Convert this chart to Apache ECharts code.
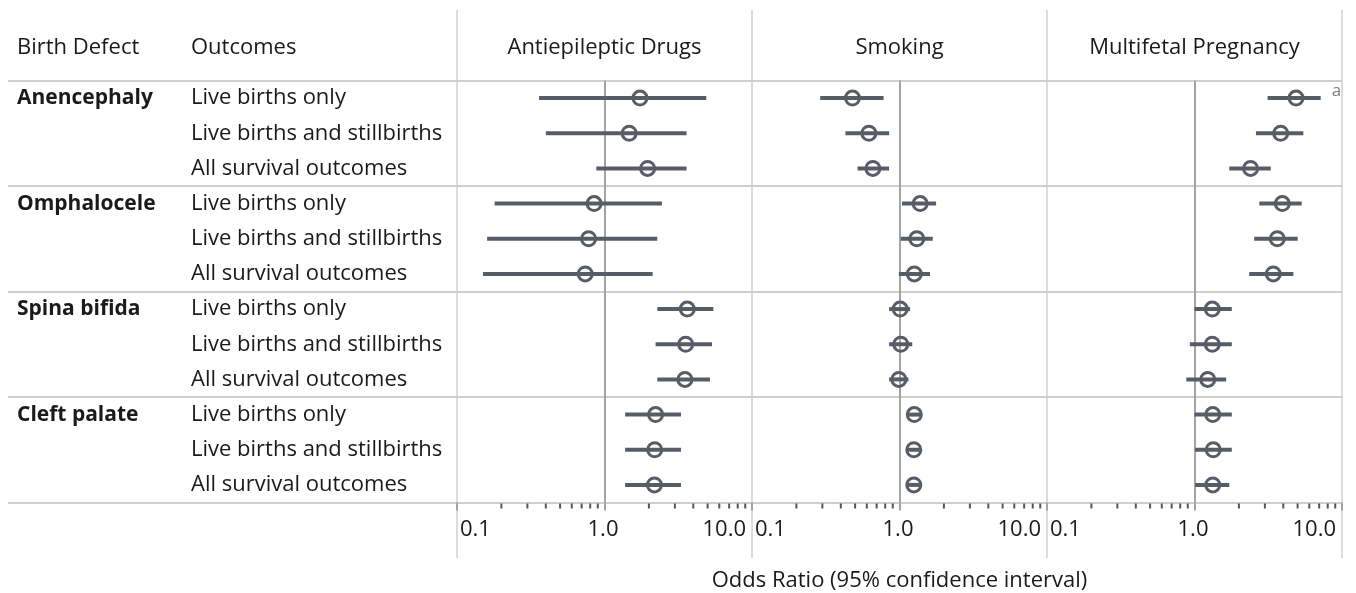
<!DOCTYPE html>
<html>
<head>
<meta charset="utf-8">
<script src="https://cdn.jsdelivr.net/npm/echarts@6/dist/echarts.min.js"></script>
<style>
html, body { margin: 0; padding: 0; background: #fff; }
#chart { width: 1356px; height: 593px; }
</style>
</head>
<body>
<div id="chart"></div>
<script>
var defects = ['Anencephaly', 'Omphalocele', 'Spina bifida', 'Cleft palate'];
var outcomes = ['Live births only', 'Live births and stillbirths', 'All survival outcomes'];
var exposures = ['Antiepileptic Drugs', 'Smoking', 'Multifetal Pregnancy'];

// odds ratios and 95% CI, rows = defect x outcome (12 rows, top to bottom)
var aedOR = [1.74, 1.47, 1.96, 0.85, 0.78, 0.74, 3.64, 3.55, 3.51, 2.22, 2.19, 2.18];
var aedLo = [0.36, 0.40, 0.88, 0.18, 0.16, 0.15, 2.28, 2.22, 2.28, 1.38, 1.38, 1.38];
var aedHi = [4.90, 3.60, 3.60, 2.45, 2.28, 2.12, 5.47, 5.36, 5.19, 3.30, 3.30, 3.30];

var smkOR = [0.48, 0.62, 0.66, 1.38, 1.31, 1.26, 1.01, 1.02, 0.99, 1.26, 1.25, 1.25];
var smkLo = [0.29, 0.43, 0.52, 1.04, 1.02, 0.99, 0.85, 0.85, 0.85, 1.15, 1.14, 1.14];
var smkHi = [0.78, 0.85, 0.85, 1.77, 1.68, 1.61, 1.18, 1.22, 1.15, 1.38, 1.37, 1.37];

var mfpOR = [4.88, 3.84, 2.40, 3.94, 3.64, 3.42, 1.32, 1.32, 1.23, 1.33, 1.34, 1.33];
var mfpLo = [3.13, 2.61, 1.72, 2.75, 2.54, 2.35, 1.00, 0.93, 0.88, 1.00, 1.01, 1.01];
var mfpHi = [7.17, 5.47, 3.29, 5.33, 5.01, 4.68, 1.79, 1.79, 1.64, 1.79, 1.79, 1.72];
var mfpNotes = ['a', '', '', '', '', '', '', '', '', '', '', ''];

var tickLabels = ['0.1', '1.0', '10.0'];
var minorTicks = [0.2, 0.3, 0.4, 0.5, 0.6, 0.7, 0.8, 0.9, 2, 3, 4, 5, 6, 7, 8, 9];

var panels = [
    { or: aedOR, lo: aedLo, hi: aedHi, notes: [] },
    { or: smkOR, lo: smkLo, hi: smkHi, notes: [] },
    { or: mfpOR, lo: mfpLo, hi: mfpHi, notes: mfpNotes }
];

// layout
var FONT = '"Open Sans"';
var FS = 22;
var TOP = 80.5, HEIGHT = 422, PANEL_L = 457, PANEL_W = 295, TABLE_L = 8;
var MARK = '#585c67', RULE = '#cfcfcf', REF = '#a3a3a3', INK = '#1a1a1a';

var rowKeys = [];
defects.forEach(function (d) {
    outcomes.forEach(function (o) { rowKeys.push(d + '|' + o); });
});

var groupSplit = function (i) { return i % 3 === 0; };

var chart = echarts.init(document.getElementById('chart'));

var grids = [{ left: TABLE_L, top: TOP, width: PANEL_L - TABLE_L, height: HEIGHT, outerBoundsMode: 'none' }];
var xAxes = [{ gridIndex: 0, type: 'value', min: 0, max: 1, show: false }];
var yAxes = [
    {
        gridIndex: 0, type: 'category', position: 'left', inverse: true, data: rowKeys,
        axisLine: { show: false }, axisTick: { show: false },
        splitLine: { show: true, interval: groupSplit, lineStyle: { color: RULE, width: 2 } },
        axisLabel: {
            inside: true, margin: 191 - TABLE_L, interval: 0,
            fontFamily: FONT, fontSize: FS, color: INK,
            formatter: function (v) { return v.split('|')[1]; }
        }
    },
    {
        gridIndex: 0, type: 'category', position: 'left', inverse: true, data: rowKeys,
        axisLine: { show: false }, axisTick: { show: false }, splitLine: { show: false },
        axisLabel: {
            inside: true, margin: 17 - TABLE_L, interval: 0,
            fontFamily: FONT, fontSize: 21, fontWeight: 'bold', color: INK,
            formatter: function (v, i) { return i % 3 === 0 ? v.split('|')[0] : ''; }
        }
    }
];
var series = [];
var graphics = [
    { type: 'text', x: 17, y: 48, style: { text: 'Birth Defect', font: FS + 'px ' + FONT, fill: INK, verticalAlign: 'middle' } },
    { type: 'text', x: 191, y: 48, style: { text: 'Outcomes', font: FS + 'px ' + FONT, fill: INK, verticalAlign: 'middle' } }
];

panels.forEach(function (p, k) {
    var gi = k + 1;
    var left = PANEL_L + PANEL_W * k;
    grids.push({ left: left, top: TOP, width: PANEL_W, height: HEIGHT, outerBoundsMode: 'none' });
    xAxes.push({
        gridIndex: gi, type: 'log', logBase: 10, min: 0.1, max: 10,
        name: k === 1 ? 'Odds Ratio (95% confidence interval)' : '',
        nameLocation: 'middle', nameGap: 67,
        nameTextStyle: { fontFamily: FONT, fontSize: FS, color: INK },
        axisLine: { show: false },
        axisTick: { show: true, length: 8, lineStyle: { color: REF, width: 2 } },
        axisLabel: {
            margin: 16, fontFamily: FONT, fontSize: FS, color: INK, padding: [0, 6, 0, 3],
            alignMinLabel: 'left', alignMaxLabel: 'right',
            formatter: function (v) { return tickLabels[Math.round(Math.log10(v)) + 1]; }
        },
        // only the 1.0 line is drawn as the reference line
        splitLine: { show: true, lineStyle: { color: ['rgba(0,0,0,0)', REF, 'rgba(0,0,0,0)'], width: 2 } }
    });
    yAxes.push({
        gridIndex: gi, type: 'category', inverse: true, data: rowKeys,
        axisLine: { show: false }, axisTick: { show: false }, axisLabel: { show: false },
        splitLine: { show: true, interval: groupSplit, lineStyle: { color: RULE, width: 2 } }
    });
    var yi = yAxes.length - 1;

    // minor ticks under the axis
    series.push({
        type: 'custom', xAxisIndex: gi, yAxisIndex: yi, silent: true, z: 3,
        data: minorTicks.map(function (v) { return [v, 0]; }),
        encode: { x: 0, y: 1 },
        renderItem: function (params, api) {
            var x = api.coord([api.value(0), 0])[0];
            var y = params.coordSys.y + params.coordSys.height;
            return { type: 'line', shape: { x1: x, y1: y + 1, x2: x, y2: y + 6 },
                     style: { stroke: '#555', lineWidth: 2 } };
        }
    });

    // confidence intervals
    series.push({
        type: 'custom', xAxisIndex: gi, yAxisIndex: yi, z: 4,
        data: p.lo.map(function (lo, i) { return [lo, p.hi[i], i]; }),
        encode: { x: [0, 1], y: 2 },
        renderItem: function (params, api) {
            var a = api.coord([api.value(0), api.value(2)]);
            var b = api.coord([api.value(1), api.value(2)]);
            var children = [{ type: 'line', shape: { x1: a[0], y1: a[1], x2: b[0], y2: b[1] },
                              style: { stroke: MARK, lineWidth: 4 } }];
            var note = p.notes[params.dataIndex];
            if (note) {
                children.push({ type: 'text', x: b[0] + 11, y: b[1] - 7,
                                style: { text: note, font: '17px ' + FONT, fill: '#808080',
                                         verticalAlign: 'middle' } });
            }
            return { type: 'group', children: children };
        }
    });

    // point estimates
    series.push({
        type: 'scatter', xAxisIndex: gi, yAxisIndex: yi, z: 5,
        symbol: 'circle', symbolSize: 14,
        itemStyle: { color: 'rgba(255,255,255,0)', borderColor: MARK, borderWidth: 3, opacity: 1 },
        data: p.or.map(function (v, i) { return [v, i]; })
    });

    graphics.push({ type: 'text', x: left + PANEL_W / 2, y: 48,
                    style: { text: exposures[k], font: FS + 'px ' + FONT, fill: INK,
                             align: 'center', verticalAlign: 'middle' } });
});

// table frame: panel borders
for (var k = 0; k <= panels.length; k++) {
    var x = PANEL_L + PANEL_W * k;
    graphics.push({ type: 'line', z: -1, shape: { x1: x, y1: 10, x2: x, y2: 558 },
                    style: { stroke: '#dcdcdc', lineWidth: 2 } });
}

chart.setOption({
    animation: false,
    grid: grids,
    xAxis: xAxes,
    yAxis: yAxes,
    series: series,
    graphic: graphics
});
</script>
</body>
</html>
